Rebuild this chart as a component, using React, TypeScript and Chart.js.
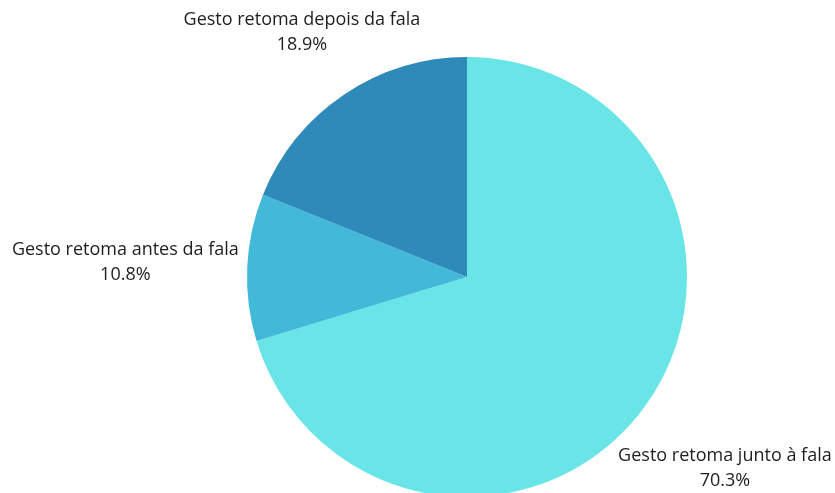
import React, { useEffect, useRef } from "react";
import { Chart, registerables } from "chart.js";

Chart.register(...registerables);

const categories = [
  "Gesto retoma junto à fala",
  "Gesto retoma antes da fala",
  "Gesto retoma depois da fala",
];
const values = [70.3, 10.8, 18.9];
const colors = ["#69E5E8", "#43B9D9", "#2E8AB9"];
const labelDistances = [101, 122, 75];

const outsideLabels = {
  id: "outsideLabels",
  afterDatasetsDraw(chart: any, _args: any, opts: any) {
    const ctx = chart.ctx;
    const meta = chart.getDatasetMeta(0);
    const labels = chart.data.labels as string[];
    const data = chart.data.datasets[0].data as number[];
    ctx.save();
    ctx.font = `${opts.fontSize}px ${opts.fontFamily}`;
    ctx.fillStyle = opts.color;
    ctx.textAlign = "center";
    ctx.textBaseline = "middle";
    meta.data.forEach((arc: any, i: number) => {
      const { x, y, startAngle, endAngle, outerRadius } = arc.getProps(
        ["x", "y", "startAngle", "endAngle", "outerRadius"],
        true
      );
      const mid = (startAngle + endAngle) / 2;
      const r = outerRadius + opts.distances[i];
      const cx = x + Math.cos(mid) * r;
      const cy = y + Math.sin(mid) * r;
      const lh = opts.lineHeight;
      ctx.fillText(labels[i], cx, cy - lh / 2);
      ctx.fillText(data[i].toFixed(1) + "%", cx, cy + lh / 2);
    });
    ctx.restore();
  },
};

export default function App() {
  const ref = useRef<HTMLCanvasElement | null>(null);
  useEffect(() => {
    document.body.style.margin = "0";
    const chart = new Chart(ref.current!, {
      type: "pie",
      data: {
        labels: categories,
        datasets: [
          {
            data: values,
            backgroundColor: colors,
            borderWidth: 0,
          },
        ],
      },
      options: {
        animation: false,
        responsive: false,
        maintainAspectRatio: false,
        layout: { padding: { left: 247, right: 148, top: 57, bottom: 23 } },
        plugins: {
          legend: { display: false },
          tooltip: { enabled: false },
          outsideLabels: {
            fontSize: 18,
            fontFamily: "'Open Sans', sans-serif",
            color: "#1e1e1e",
            lineHeight: 25,
            distances: labelDistances,
          },
        } as any,
      },
      plugins: [outsideLabels],
    });
    return () => chart.destroy();
  }, []);
  return (
    <div
      style={{
        position: "absolute",
        left: 0,
        top: 0,
        width: 835,
        height: 493,
        overflow: "hidden",
        background: "#ffffff",
      }}
    >
      <canvas ref={ref} width={835} height={520} style={{ width: 835, height: 520 }} />
    </div>
  );
}
